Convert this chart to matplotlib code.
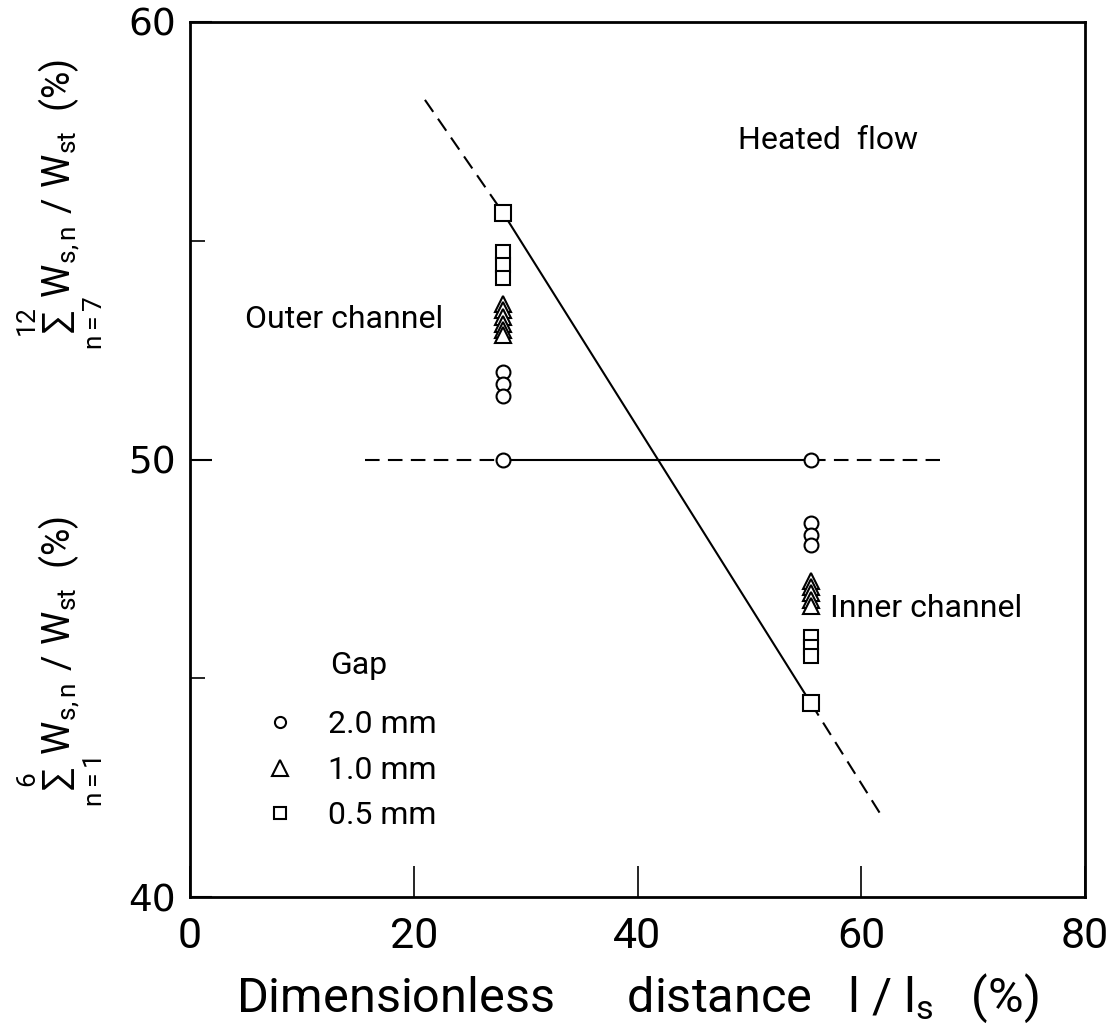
import matplotlib
matplotlib.use("Agg")
import matplotlib.pyplot as plt
from matplotlib.lines import Line2D

# ---------------- data ----------------
x_outer = 28.0
x_inner = 55.5

# reference (isothermal) points at 50 %
ref_x = [28.0, 55.5]
ref_y = [50.0, 50.0]

# Gap 2.0 mm (circles)
outer_circle_y = [52.0, 51.73, 51.45]
inner_circle_y = [48.55, 48.27, 48.05]
# Gap 1.0 mm (triangles)
outer_tri_y = [53.55, 53.42, 53.26, 53.10, 52.96, 52.85]
inner_tri_y = [47.22, 47.08, 46.94, 46.80, 46.66]
# Gap 0.5 mm (squares)
outer_sq_y = [54.74, 54.44, 54.15]
inner_sq_y = [45.94, 45.71, 45.51]

# heated flow line (squares at its ends)
heat_x = [28.0, 55.5]
heat_y = [55.63, 44.43]
heat_ext_top_x = [21.0, 28.0]
heat_ext_top_y = [58.22, 55.63]
heat_ext_bot_x = [55.5, 62.0]
heat_ext_bot_y = [44.43, 41.78]

# horizontal 50 % line
flat_dash_left_x = [15.6, 28.0]
flat_dash_right_x = [55.5, 67.0]
flat_y = [50.0, 50.0]

x_ticks = [0, 20, 40, 60, 80]
y_ticks = [40, 50, 60]
y_minor = [45, 55]

legend_title = "Gap"
legend_labels = ["2.0 mm", "1.0 mm", "0.5 mm"]

# ---------------- style ----------------
NARROW = ["Roboto", "DejaVu Sans"]
plt.rcParams["mathtext.fontset"] = "custom"
plt.rcParams["mathtext.rm"] = "Roboto"
plt.rcParams["mathtext.it"] = "Roboto"
plt.rcParams["mathtext.sf"] = "Roboto"

fig = plt.figure(figsize=(11.10, 10.31), dpi=100)
ax = fig.add_axes([190 / 1110, 1 - 897 / 1031, 895 / 1110, 875 / 1031])

lw = 1.5
dash = (7, 4)
mk = dict(mfc="white", mec="black", mew=1.5, ls="none", color="black")

# lines
ax.plot(heat_x, heat_y, color="black", lw=lw, zorder=2)
ax.plot(heat_ext_top_x, heat_ext_top_y, color="black", lw=lw, dashes=dash, zorder=2)
ax.plot(heat_ext_bot_x, heat_ext_bot_y, color="black", lw=lw, dashes=dash, zorder=2)
ax.plot(ref_x, ref_y, color="black", lw=lw, zorder=2)
ax.plot(flat_dash_left_x, flat_y, color="black", lw=lw, dashes=dash, zorder=2)
ax.plot(flat_dash_right_x, flat_y, color="black", lw=lw, dashes=dash, zorder=2)

# markers
ax.plot(ref_x, ref_y, marker="o", ms=10, **mk, zorder=3)
ax.plot(heat_x, heat_y, marker="s", ms=11, **mk, zorder=3)
ax.plot([x_outer] * len(outer_circle_y), outer_circle_y, marker="o", ms=10, **mk, zorder=3)
ax.plot([x_inner] * len(inner_circle_y), inner_circle_y, marker="o", ms=10, **mk, zorder=3)
ax.plot([x_outer] * len(outer_tri_y), outer_tri_y, marker="^", ms=12, **mk, zorder=3)
ax.plot([x_inner] * len(inner_tri_y), inner_tri_y, marker="^", ms=12, **mk, zorder=3)
ax.plot([x_outer] * len(outer_sq_y), outer_sq_y, marker="s", ms=10, **mk, zorder=3)
ax.plot([x_inner] * len(inner_sq_y), inner_sq_y, marker="s", ms=10, **mk, zorder=3)

# axes
ax.set_xlim(0, 80)
ax.set_ylim(40, 60)
ax.set_xticks(x_ticks)
ax.set_yticks(y_ticks)
ax.set_yticks(y_minor, minor=True)
ax.tick_params(axis="x", direction="in", length=22, width=1.2, pad=14, labelsize=31)
ax.tick_params(axis="y", direction="in", length=16, width=1.5, pad=10, labelsize=27)
ax.tick_params(axis="y", which="minor", direction="in", length=11, width=1.2)
for lab in ax.get_xticklabels():
    lab.set_family(NARROW)
for sp in ax.spines.values():
    sp.set_linewidth(2.0)

ax.set_xlabel(r"Dimensionless      distance   l / l$_\mathregular{s}$   (%)",
              family=NARROW, fontsize=35, labelpad=10)

# y labels (two stacked)
fig.text(60 / 1110, 1 - 205 / 1031,
         r"$\sum_{n=7}^{12}\mathrm{W}_{\mathrm{s,n}}\ /\ \mathrm{W}_{\mathrm{st}}$  (%)",
         rotation=90, ha="center", va="center", fontsize=27, family=NARROW)
fig.text(60 / 1110, 1 - 662 / 1031,
         r"$\sum_{n=1}^{6}\mathrm{W}_{\mathrm{s,n}}\ /\ \mathrm{W}_{\mathrm{st}}$  (%)",
         rotation=90, ha="center", va="center", fontsize=27, family=NARROW)

# annotations
ax.text(49.0, 57.3, "Heated  flow", family=NARROW, fontsize=23, ha="left", va="center")
ax.text(4.9, 53.2, "Outer channel", family=NARROW, fontsize=23, ha="left", va="center")
ax.text(57.2, 46.6, "Inner channel", family=NARROW, fontsize=23, ha="left", va="center")

# legend
ax.text(15.1, 45.3, legend_title, family=NARROW, fontsize=23, ha="center", va="center")
handles = [
    Line2D([], [], marker="o", ms=8, **mk),
    Line2D([], [], marker="^", ms=11, **mk),
    Line2D([], [], marker="s", ms=9, **mk),
]
leg = ax.legend(handles, legend_labels, frameon=False,
                loc="upper left", bbox_to_anchor=(0.068, 0.228),
                prop={"family": NARROW, "size": 23},
                handlelength=1.0, handletextpad=1.0, labelspacing=0.52, borderaxespad=0)

fig.savefig("out.png", dpi=100)
